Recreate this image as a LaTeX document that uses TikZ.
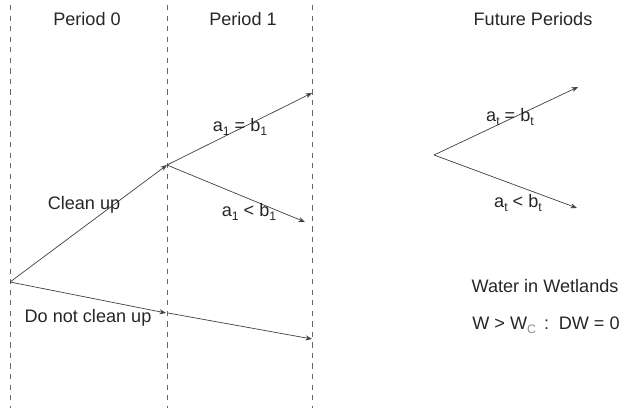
\documentclass[tikz,border=0pt]{standalone}
\usepackage{fontspec}
\setmainfont{Liberation Sans}
\usepackage{tikz}
\usetikzlibrary{positioning,arrows.meta,calc}

\newcommand{\lowsub}[1]{\raisebox{-0.45ex}{\fontsize{7pt}{8pt}\selectfont #1}}

\begin{document}
\begin{tikzpicture}[x=0.02cm, y=-0.02cm,
    every node/.style={font=\fontsize{10.3pt}{12pt}\selectfont, text=black!85, inner sep=1pt},
    period/.style={dashed, black!60, thin},
    arrow/.style={-{Stealth[length=1.3mm, width=1mm]}, black!75, thin},
]
\useasboundingbox (0,0) rectangle (625,408);

% period boundaries
\draw[period] (10,5) -- (10,408);
\draw[period] (167,5) -- (167,408);
\draw[period] (312,5) -- (312,408);

\node (p0) at (87,19) {Period 0};
\node (p1) at (243,19) {Period 1};
\node (pf) at (533,19) {Future Periods};

% decision tree
\coordinate (root) at (10,282);
\coordinate (clean) at (167,165);
\coordinate (eq1) at (312,93);
\coordinate (lt1) at (305,222);
\coordinate (dirty) at (166,313);
\coordinate (dirtyb) at (168,313);
\coordinate (dirty1) at (312,339);

\draw[arrow] (root) -- (clean);
\draw[arrow] (clean) -- (eq1);
\draw[arrow] (clean) -- (lt1);
\draw[arrow] (root) -- (dirty);
\draw[arrow] (dirtyb) -- (dirty1);

\node (lclean) at (84,205) {Clean up};
\node (ldirty) at (88,318) {Do not clean up};
\node (leq1) at (240,127) {a\lowsub{1} = b\lowsub{1}};
\node (llt1) at (249,212) {a\lowsub{1} < b\lowsub{1}};

% future periods
\coordinate (froot) at (434,155);
\coordinate (feq) at (578,87);
\coordinate (flt) at (577,208);
\draw[arrow] (froot) -- (feq);
\draw[arrow] (froot) -- (flt);

\node (leqt) at (510,117) {a\lowsub{t} = b\lowsub{t}};
\node (lltt) at (518,203) {a\lowsub{t} < b\lowsub{t}};

\node (water) at (545,286) {Water in Wetlands};
\node (cond) at (546,325) {W > W\lowsub{\textcolor{black!45}{C}}\, :\, DW = 0};
\end{tikzpicture}
\end{document}
